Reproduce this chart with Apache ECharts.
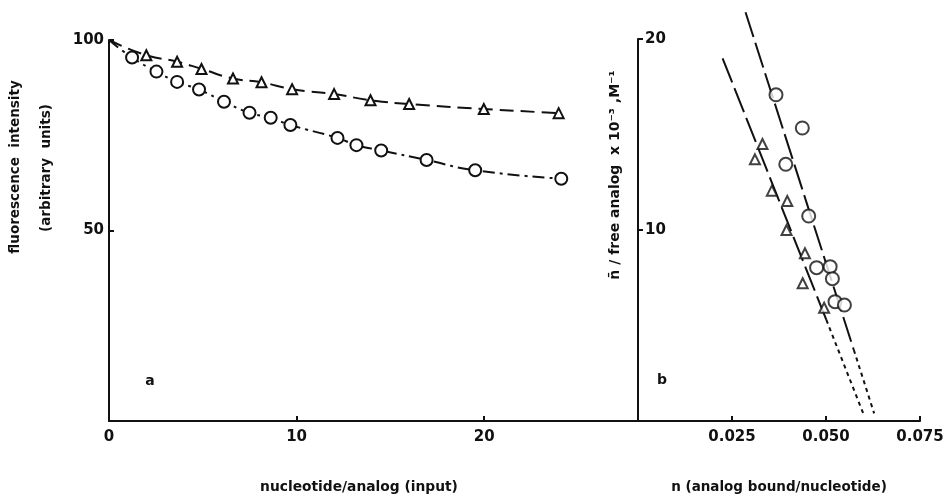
<!DOCTYPE html>
<html><head><meta charset="utf-8">
<script src="https://cdn.jsdelivr.net/npm/echarts@6/dist/echarts.min.js"></script>
<style>html,body{margin:0;padding:0;background:#fff}#c{width:949px;height:494px}</style>
</head><body><div id="c"></div>
<script>
// Panel a: fluorescence intensity vs nucleotide/analog
const curveStart = [0, 100];
const triX = [1.99, 3.63, 4.93, 6.61, 8.13, 9.76, 12.0, 13.94, 16.0, 19.98, 23.97];
const triY = [96.0, 94.3, 92.4, 89.9, 88.9, 87.1, 85.8, 84.2, 83.2, 81.9, 80.8];
const circX = [1.23, 2.53, 3.63, 4.80, 6.13, 7.49, 8.62, 9.67, 12.18, 13.19, 14.51, 16.93, 19.52, 24.11];
const circY = [95.4, 91.7, 89.0, 87.0, 83.8, 80.9, 79.6, 77.7, 74.3, 72.4, 71.0, 68.5, 65.8, 63.6];
const leftXTicks = [0, 10, 20];
const leftYTicks = [50, 100];

// Panel b: Scatchard plot
const bCircX = [0.0367, 0.0437, 0.0393, 0.0454, 0.0475, 0.0511, 0.0517, 0.0524, 0.0549];
const bCircY = [17.08, 15.34, 13.44, 10.73, 8.03, 8.08, 7.45, 6.25, 6.07];
const bTriX = [0.0331, 0.0311, 0.0356, 0.0397, 0.0395, 0.0444, 0.0438, 0.0495];
const bTriY = [14.50, 13.70, 12.06, 11.52, 10.0, 8.78, 7.21, 5.93];
const circFitSolid = [[0.0286, 21.4], [0.0574, 3.72]];
const circFitDotted = [[0.0574, 3.72], [0.0628, 0.40]];
const triFitSolid = [[0.0225, 18.99], [0.0501, 5.29]];
const triFitDotted = [[0.0501, 5.29], [0.0599, 0.40]];

const ink = '#111';
const font = 'DejaVu Sans';
const zip = (xs, ys) => xs.map((x, i) => [x, ys[i]]);

const chart = echarts.init(document.getElementById('c'), null, {renderer: 'canvas'});
const axisCommon = {
  axisLine: {lineStyle: {color: ink, width: 2}},
  axisTick: {inside: true, length: 5, lineStyle: {color: ink, width: 2}},
  splitLine: {show: false},
  axisLabel: {color: ink, fontFamily: font, fontWeight: 'bold', fontSize: 15}
};

const option = {
  backgroundColor: '#fff',
  animation: false,
  grid: [
    {left: 109, right: 311, top: 40, bottom: 73},
    {left: 638, right: 29, top: 39, bottom: 73}
  ],
  xAxis: [
    Object.assign({}, axisCommon, {
      gridIndex: 0, type: 'value', min: 0, max: 28.2, interval: 10,
      axisLabel: Object.assign({}, axisCommon.axisLabel, {
        margin: 9,
        formatter: v => leftXTicks.includes(v) ? String(v) : ''
      })
    }),
    Object.assign({}, axisCommon, {
      gridIndex: 1, type: 'value', min: 0, max: 0.075, interval: 0.025,
      axisLabel: Object.assign({}, axisCommon.axisLabel, {
        margin: 9,
        formatter: v => v === 0 ? '' : v.toFixed(3)
      })
    })
  ],
  yAxis: [
    Object.assign({}, axisCommon, {
      gridIndex: 0, type: 'value', min: 0, max: 100, interval: 50,
      axisLabel: Object.assign({}, axisCommon.axisLabel, {
        margin: 5,
        formatter: v => leftYTicks.includes(v) ? String(v) : ''
      })
    }),
    Object.assign({}, axisCommon, {
      gridIndex: 1, type: 'value', min: 0, max: 20, interval: 10,
      axisLine: {onZero: false, lineStyle: {color: ink, width: 2}},
      axisLabel: Object.assign({}, axisCommon.axisLabel, {
        inside: true, margin: 7,
        formatter: v => v === 0 ? '' : String(v)
      })
    })
  ],
  series: [
    {
      type: 'line', xAxisIndex: 0, yAxisIndex: 0, smooth: true,
      data: [{value: curveStart, symbol: 'none'}].concat(zip(triX, triY)),
      symbol: 'triangle', symbolSize: 10, showSymbol: true,
      itemStyle: {color: '#fff', borderColor: ink, borderWidth: 2},
      lineStyle: {color: ink, width: 2, type: [14, 7]}
    },
    {
      type: 'line', xAxisIndex: 0, yAxisIndex: 0, smooth: true,
      data: [{value: curveStart, symbol: 'none'}].concat(zip(circX, circY)),
      symbol: 'circle', symbolSize: 12,
      itemStyle: {color: '#fff', borderColor: ink, borderWidth: 2},
      lineStyle: {color: ink, width: 2, type: [12, 5, 3, 5]}
    },
    {
      type: 'line', xAxisIndex: 1, yAxisIndex: 1, data: circFitSolid, symbol: 'none', clip: false,
      lineStyle: {color: ink, width: 2, type: [26, 6]}, z: 1
    },
    {
      type: 'line', xAxisIndex: 1, yAxisIndex: 1, data: circFitDotted, symbol: 'none', clip: false,
      lineStyle: {color: ink, width: 2, type: [4, 4]}, z: 1
    },
    {
      type: 'line', xAxisIndex: 1, yAxisIndex: 1, data: triFitSolid, symbol: 'none', clip: false,
      lineStyle: {color: ink, width: 2, type: [26, 6]}, z: 1
    },
    {
      type: 'line', xAxisIndex: 1, yAxisIndex: 1, data: triFitDotted, symbol: 'none', clip: false,
      lineStyle: {color: ink, width: 2, type: [4, 4]}, z: 1
    },
    {
      type: 'scatter', xAxisIndex: 1, yAxisIndex: 1, data: zip(bCircX, bCircY),
      symbol: 'circle', symbolSize: 13, z: 3,
      itemStyle: {color: '#fff', borderColor: ink, borderWidth: 2}
    },
    {
      type: 'scatter', xAxisIndex: 1, yAxisIndex: 1, data: zip(bTriX, bTriY),
      symbol: 'triangle', symbolSize: 10, z: 3,
      itemStyle: {color: '#fff', borderColor: ink, borderWidth: 2}
    }
  ],
  graphic: [
    {type: 'text', x: 15, y: 167, rotation: Math.PI / 2,
     style: {text: 'fluorescence  intensity', fill: ink, font: 'bold 13.5px "DejaVu Sans"', textAlign: 'center', textVerticalAlign: 'middle'}},
    {type: 'text', x: 46, y: 168, rotation: Math.PI / 2,
     style: {text: '(arbitrary  units)', fill: ink, font: 'bold 13.5px "DejaVu Sans"', textAlign: 'center', textVerticalAlign: 'middle'}},
    {type: 'text', x: 615, y: 175, rotation: Math.PI / 2,
     style: {text: 'n\u0304 / free analog  x 10\u207B\u00B3 ,M\u207B\u00B9', fill: ink, font: 'bold 14px "DejaVu Sans"', textAlign: 'center', textVerticalAlign: 'middle'}},
    {type: 'text', x: 359, y: 487,
     style: {text: 'nucleotide/analog (input)', fill: ink, font: 'bold 13.8px "DejaVu Sans"', textAlign: 'center', textVerticalAlign: 'middle'}},
    {type: 'text', x: 779, y: 487,
     style: {text: 'n (analog bound/nucleotide)', fill: ink, font: 'bold 13.5px "DejaVu Sans"', textAlign: 'center', textVerticalAlign: 'middle'}},
    {type: 'text', x: 150, y: 381,
     style: {text: 'a', fill: ink, font: 'bold 14px "DejaVu Sans"', textAlign: 'center', textVerticalAlign: 'middle'}},
    {type: 'text', x: 662, y: 380,
     style: {text: 'b', fill: ink, font: 'bold 14px "DejaVu Sans"', textAlign: 'center', textVerticalAlign: 'middle'}}
  ]
};
chart.setOption(option);
</script>
</body></html>
